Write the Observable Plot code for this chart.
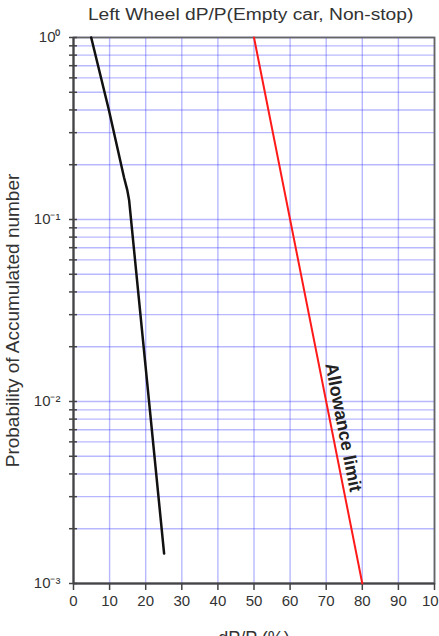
<!DOCTYPE html>
<html><head><meta charset="utf-8">
<script src="https://cdn.jsdelivr.net/npm/d3@7"></script>
<script src="https://cdn.jsdelivr.net/npm/@observablehq/plot@0.6"></script>
<style>
body{margin:0;background:#fff;overflow:hidden;font-family:"Liberation Sans",Arial,sans-serif;}
#title{height:30px;line-height:30px;margin-left:70px;width:361px;text-align:center;font-size:16px;color:#333;white-space:nowrap;}
#title span{display:inline-block;transform:scaleX(1.2);}
</style></head><body>
<div id="title"><span></span></div>
<div id="chart"></div>
<script>
const chartTitle = "Left Wheel dP/P(Empty car, Non-stop)";
const xLabel = "dP/P (%)";
const yLabel = "Probability of Accumulated number";
const xTicks = [0, 10, 20, 30, 40, 50, 60, 70, 80, 90, 100];
const xTickLabels = ["0", "10", "20", "30", "40", "50", "60", "70", "80", "90", "100"];
const yTicks = [0.001, 0.01, 0.1, 1];
const yTickLabels = ["10\u207B\u00B3", "10\u207B\u00B2", "10\u207B\u00B9", "10\u2070"];
const minorMultipliers = [2, 3, 4, 5, 6, 7, 8, 9];
// measured curve (black)
const measuredX = [4.9, 9.8, 14.0, 14.9, 15.4, 25.1];
const measuredP = [1.0, 0.40, 0.17, 0.145, 0.128, 0.00146];
// allowance limit (red)
const limitX = [50, 80];
const limitP = [1, 0.001];
const limitText = "Allowance limit";
const limitTextAt = 0.714; // fraction along the limit line

document.querySelector("#title span").textContent = chartTitle;

const yMinor = yTicks.slice(0, -1).flatMap(d => minorMultipliers.map(k => k * d));
const yAll = [...yTicks, ...yMinor];
const measured = measuredX.map((x, i) => ({x, p: measuredP[i]}));
const limit = limitX.map((x, i) => ({x, p: limitP[i]}));
const tx = limitX[0] + (limitX[1] - limitX[0]) * limitTextAt;
const tp = Math.pow(10, Math.log10(limitP[0]) + (Math.log10(limitP[1]) - Math.log10(limitP[0])) * limitTextAt);
const xFmt = new Map(xTicks.map((d, i) => [d, xTickLabels[i]]));
const yFmt = new Map(yTicks.map((d, i) => [d, yTickLabels[i]]));
const grid = {stroke: "#3333ff", strokeOpacity: 0.35, strokeWidth: 1.4};

const chart = Plot.plot({
  width: 439,
  height: 620,
  marginTop: 7,
  marginLeft: 73,
  marginRight: 5,
  marginBottom: 67,
  style: {fontFamily: "'Liberation Sans', Arial, sans-serif", fontSize: "15px", color: "#333", background: "#fff", overflow: "visible"},
  x: {domain: [0, 100], axis: null},
  y: {type: "log", domain: [0.001, 1], axis: null},
  marks: [
    Plot.gridX(xTicks, grid),
    Plot.gridY(yAll, grid),
    Plot.frame({stroke: "#666", strokeWidth: 1.8}),
    Plot.ruleX([0], {stroke: "#444", strokeWidth: 2}),
    Plot.ruleY([0.001], {stroke: "#444", strokeWidth: 2}),
    Plot.axisY(yAll, {label: null, tickSize: 8, dx: 4, tickFormat: () => "", stroke: "#444", strokeWidth: 1.5}),
    Plot.axisY(yTicks, {label: null, tickSize: 0, tickPadding: 13, tickFormat: d => yFmt.get(d), fontSize: 15, fill: "#333"}),
    Plot.axisX(xTicks, {label: null, tickSize: 7, tickPadding: 5, tickFormat: d => xFmt.get(d), fontSize: 15, stroke: "#444", strokeWidth: 1.5, fill: "#333"}),
    Plot.line(limit, {x: "x", y: "p", stroke: "#ff1a1a", strokeWidth: 2}),
    Plot.line(measured, {x: "x", y: "p", stroke: "#111", strokeWidth: 2.5}),
    Plot.text([limitText], {x: [tx], y: [tp], rotate: 79, dx: 12, fontSize: 18, fontWeight: "bold", fill: "#222", textAnchor: "middle", lineAnchor: "middle"}),
    Plot.text([yLabel], {frameAnchor: "left", rotate: -90, dx: -54.5, dy: 10, fontSize: 19, fill: "#333", textAnchor: "middle", lineAnchor: "bottom"}),
    Plot.text([xLabel], {frameAnchor: "bottom", dy: 60.5, fontSize: 18, fill: "#333", textAnchor: "middle", lineAnchor: "bottom"})
  ]
});
document.getElementById("chart").appendChild(chart);
</script>
</body></html>
